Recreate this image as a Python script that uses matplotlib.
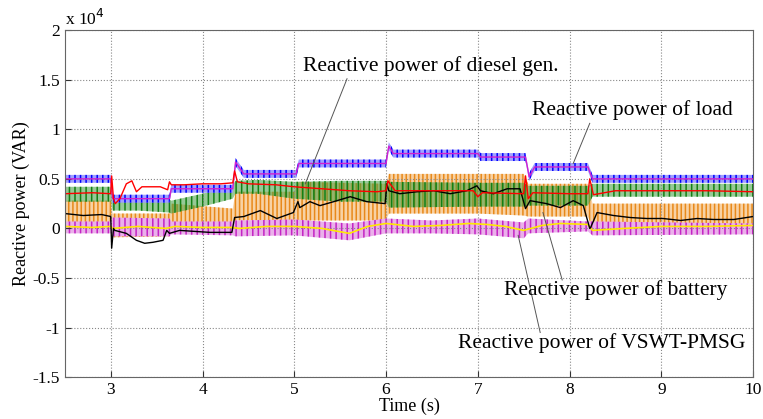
import matplotlib
matplotlib.use("Agg")
import matplotlib.pyplot as plt

plt.rcParams["font.family"] = ["Liberation Serif", "DejaVu Serif"]
plt.rcParams["axes.unicode_minus"] = False
plt.rcParams["hatch.linewidth"] = 1.1

# values in units of 1e4 VAR, time in seconds
load_t = [2.5, 3.0, 3.02, 3.64, 3.66, 4.33, 4.36, 4.45, 5.02, 5.05, 6.0, 6.03, 6.08, 7.0, 7.03, 7.52, 7.56, 7.62, 8.2, 8.25, 10.0]
load_mid = [0.50, 0.50, 0.30, 0.30, 0.40, 0.40, 0.67, 0.55, 0.55, 0.655, 0.655, 0.83, 0.755, 0.755, 0.72, 0.72, 0.52, 0.62, 0.62, 0.50, 0.50]
load_hi = [0.54, 0.54, 0.34, 0.34, 0.44, 0.44, 0.71, 0.59, 0.59, 0.695, 0.695, 0.87, 0.795, 0.795, 0.76, 0.76, 0.56, 0.66, 0.66, 0.54, 0.54]
load_lo = [0.46, 0.46, 0.26, 0.26, 0.36, 0.36, 0.63, 0.51, 0.51, 0.615, 0.615, 0.79, 0.715, 0.715, 0.68, 0.68, 0.48, 0.58, 0.58, 0.46, 0.46]

green_t = [2.5, 3.0, 3.02, 3.3, 3.64, 3.66, 4.0, 4.33, 4.36, 4.6, 5.0, 5.5, 6.0, 6.03, 7.0, 7.5, 7.55, 8.2, 8.25, 10.0]
green_hi = [0.42, 0.42, 0.31, 0.31, 0.29, 0.28, 0.35, 0.44, 0.48, 0.49, 0.47, 0.48, 0.48, 0.47, 0.46, 0.46, 0.43, 0.43, 0.45, 0.45]
green_lo = [0.27, 0.27, 0.18, 0.18, 0.16, 0.15, 0.22, 0.30, 0.35, 0.35, 0.30, 0.27, 0.27, 0.21, 0.22, 0.22, 0.23, 0.23, 0.32, 0.32]

orange_t = [2.5, 3.0, 3.02, 3.64, 3.66, 4.33, 4.36, 5.0, 5.05, 6.0, 6.03, 7.0, 7.5, 7.55, 8.2, 8.25, 10.0]
orange_hi = [0.28, 0.28, 0.15, 0.15, 0.25, 0.20, 0.37, 0.37, 0.47, 0.45, 0.55, 0.55, 0.55, 0.45, 0.45, 0.25, 0.25]
orange_lo = [0.01, 0.01, -0.09, -0.08, -0.03, -0.05, 0.08, 0.08, 0.08, 0.08, 0.15, 0.15, 0.13, 0.12, 0.12, 0.0, 0.0]

mag_t = [2.5, 3.0, 3.02, 3.64, 3.66, 4.33, 4.36, 5.0, 5.6, 6.0, 6.5, 7.0, 7.5, 7.55, 8.2, 8.25, 10.0]
mag_hi = [0.07, 0.07, 0.11, 0.10, 0.07, 0.07, 0.08, 0.09, 0.05, 0.10, 0.08, 0.10, 0.06, 0.10, 0.07, 0.07, 0.05]
mag_lo = [-0.05, -0.05, -0.08, -0.08, -0.06, -0.07, -0.08, -0.07, -0.12, -0.05, -0.05, -0.06, -0.10, -0.05, -0.03, -0.07, -0.06]

yellow_t = [2.5, 2.8, 3.0, 3.02, 3.3, 3.6, 3.7, 4.0, 4.33, 4.4, 4.7, 5.0, 5.3, 5.6, 5.8, 6.0, 6.3, 6.6, 6.9, 7.1, 7.3, 7.5, 7.7, 7.9, 8.2, 8.25, 8.6, 9.0, 9.5, 10.0]
yellow_v = [0.02, 0.01, 0.02, 0.0, 0.02, 0.0, 0.02, 0.01, 0.01, 0.0, 0.02, 0.02, 0.0, -0.05, 0.02, 0.05, 0.02, 0.03, 0.05, 0.04, 0.02, -0.02, 0.03, 0.05, 0.04, -0.02, 0.0, 0.02, 0.02, 0.03]

red_t = [2.5, 2.8, 3.0, 3.01, 3.03, 3.05, 3.1, 3.17, 3.23, 3.28, 3.34, 3.45, 3.54, 3.62, 3.64, 3.66, 3.8, 4.0, 4.2, 4.33, 4.35, 4.38, 4.5, 4.8, 5.0, 5.3, 5.6, 5.9, 6.0, 6.02, 6.1, 6.5, 6.95, 7.0, 7.05, 7.5, 7.52, 7.55, 7.6, 8.0, 8.2, 8.22, 8.26, 8.5, 9.0, 9.5, 10.0]
red_v = [0.35, 0.36, 0.35, 0.53, 0.30, 0.25, 0.30, 0.45, 0.48, 0.37, 0.42, 0.42, 0.42, 0.39, 0.47, 0.44, 0.44, 0.45, 0.45, 0.46, 0.58, 0.47, 0.45, 0.44, 0.42, 0.40, 0.38, 0.37, 0.38, 0.48, 0.38, 0.38, 0.38, 0.32, 0.36, 0.35, 0.53, 0.30, 0.36, 0.35, 0.35, 0.50, 0.34, 0.38, 0.38, 0.38, 0.37]

black_t = [2.5, 2.7, 2.9, 3.0, 3.01, 3.03, 3.045, 3.17, 3.28, 3.37, 3.46, 3.57, 3.61, 3.64, 3.75, 4.08, 4.32, 4.35, 4.45, 4.63, 4.81, 4.99, 5.04, 5.06, 5.17, 5.28, 5.43, 5.61, 5.79, 5.99, 6.01, 6.03, 6.15, 6.34, 6.52, 6.70, 6.88, 6.99, 7.03, 7.17, 7.32, 7.46, 7.52, 7.57, 7.75, 7.90, 8.04, 8.15, 8.22, 8.23, 8.30, 8.48, 8.66, 8.84, 9.02, 9.21, 9.39, 9.57, 9.79, 10.0]
black_v = [0.15, 0.13, 0.14, 0.12, -0.20, 0.0, -0.02, -0.05, -0.12, -0.15, -0.14, -0.12, -0.02, -0.05, -0.02, -0.04, -0.04, 0.11, 0.12, 0.18, 0.10, 0.16, 0.27, 0.21, 0.27, 0.23, 0.27, 0.32, 0.27, 0.25, 0.45, 0.38, 0.35, 0.37, 0.38, 0.35, 0.38, 0.43, 0.38, 0.35, 0.40, 0.40, 0.20, 0.28, 0.25, 0.21, 0.28, 0.23, 0.0, 0.01, 0.16, 0.13, 0.11, 0.10, 0.10, 0.08, 0.10, 0.09, 0.09, 0.12]

fig = plt.figure(figsize=(7.63, 4.19), dpi=100)
ax = fig.add_axes([0.085, 0.10, 0.902, 0.828])

# ripple bands (hatched to look like the fast oscillation)
ax.fill_between(orange_t, orange_lo, orange_hi, facecolor="#f8d2a4", edgecolor="#e8891a", hatch="||||", linewidth=0)
ax.fill_between(green_t, green_lo, green_hi, facecolor=(0.25, 0.62, 0.25, 0.55), edgecolor="#137f13", hatch="|||", linewidth=0)
ax.fill_between(mag_t, mag_lo, mag_hi, facecolor="#eab0ea", edgecolor="#c424c4", hatch="|||", linewidth=0)
ax.fill_between(load_t, load_lo, load_hi, facecolor="#a0a0ff", edgecolor="#0000ff", hatch="|||", linewidth=0)

ax.plot(load_t, load_mid, color="#d020d0", lw=1.0)
ax.plot(yellow_t, yellow_v, color="#ffe800", lw=1.2)
ax.plot(black_t, black_v, color="black", lw=1.0)
ax.plot(red_t, red_v, color="red", lw=1.0)

ax.set_xlim(2.5, 10)
ax.set_ylim(-1.5, 2)
ax.set_xticks([3, 4, 5, 6, 7, 8, 9, 10])
ax.set_yticks([-1.5, -1, -0.5, 0, 0.5, 1, 1.5, 2])
ax.set_yticklabels(["-1.5", "-1", "-0.5", "0", "0.5", "1", "1.5", "2"])
ax.tick_params(direction="in", labelsize=12.5, colors="#333333", labelcolor="black", length=4)
ax.grid(True, linestyle=":", color="#888888", linewidth=0.8)
for s in ax.spines.values():
    s.set_color("#666666")

ax.set_xlabel("Time (s)", fontsize=13, labelpad=0)
ax.set_ylabel("Reactive power (VAR)", fontsize=13, labelpad=2)
ax.text(0.0, 1.003, r"x 10$^4$", transform=ax.transAxes, fontsize=12.5, va="bottom", ha="left")

# annotations
ax.plot([5.575, 5.12], [1.51, 0.45], color="#555555", lw=0.7)
ax.text(6.49, 1.64, "Reactive power of diesel gen.", fontsize=15.5, ha="center", va="center")
ax.plot([8.22, 8.04], [1.06, 0.655], color="#555555", lw=0.7)
ax.text(8.68, 1.19, "Reactive power of load", fontsize=15.5, ha="center", va="center")
ax.plot([7.92, 7.71], [-0.52, 0.16], color="#555555", lw=0.7)
ax.text(8.5, -0.625, "Reactive power of battery", fontsize=15.5, ha="center", va="center")
ax.plot([7.68, 7.44], [-1.05, -0.07], color="#555555", lw=0.7)
ax.text(8.35, -1.16, "Reactive power of VSWT-PMSG", fontsize=15.5, ha="center", va="center")

fig.savefig("out.png", dpi=100)
